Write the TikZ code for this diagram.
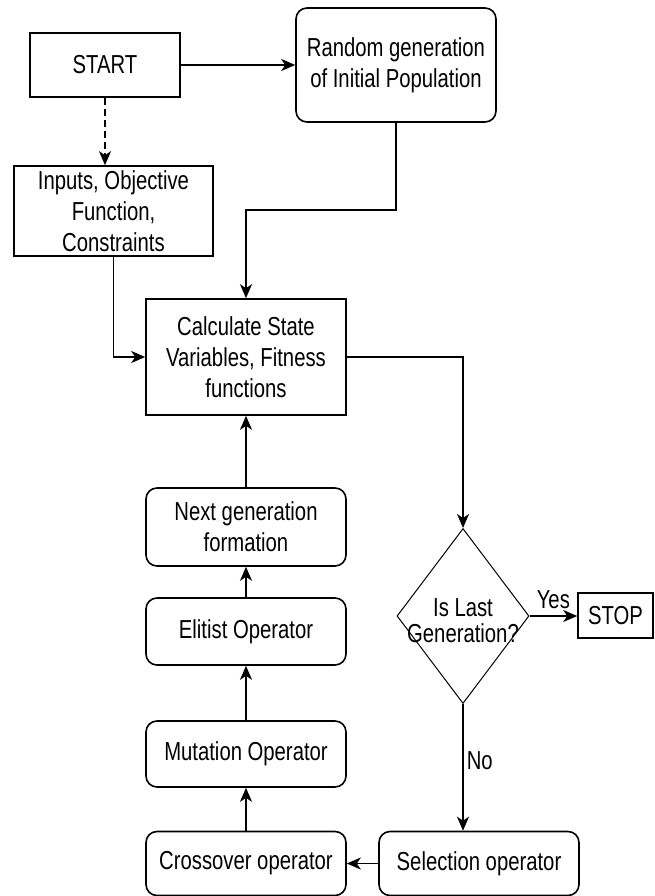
\documentclass[tikz,border=0pt]{standalone}
\usepackage{fontspec}
\setmainfont[FakeStretch=0.78]{Liberation Sans}
\usetikzlibrary{shapes.geometric,arrows.meta}

\tikzset{
  box/.style={draw=black, line width=1.6pt, align=center, inner sep=0pt,
    minimum width=200pt, font=\fontsize{26}{31}\selectfont},
  rbox/.style={box, rounded corners=11pt},
  decision/.style={draw=black, line width=1pt, diamond, inner sep=0pt,
    minimum width=132pt, minimum height=175pt},
  flow/.style={black, line width=1.6pt, -{Stealth[length=14pt,width=12pt,inset=4pt]}},
  tag/.style={font=\fontsize{26}{31}\selectfont, inner sep=0pt}
}

\begin{document}
\begin{tikzpicture}[x=1pt, y=-1pt]
\useasboundingbox (0,0) rectangle (654,896);

\node[box, minimum width=150pt, minimum height=64pt] (start) at (105,65) {START};
\node[rbox, minimum height=114pt] (rand) at (396,65) {Random generation\\of Initial Population};
\node[box, minimum width=199pt, minimum height=90pt] (inputs) at (113.5,211) {Inputs, Objective\\Function,\\Constraints};
\node[box, minimum height=116pt] (calc) at (246,357) {Calculate State\\Variables, Fitness\\functions};
\node[rbox, minimum height=78pt] (next) at (246,527) {Next generation\\formation};
\node[rbox, minimum height=67pt] (elit) at (246,631.5) {Elitist Operator};
\node[rbox, minimum height=66pt] (mut) at (246,754) {Mutation Operator};
\node[rbox, minimum height=64pt] (cross) at (246,863.5) {Crossover operator};
\node[rbox, minimum height=64pt] (sel) at (479,863.5) {Selection operator};
\node[decision] (dia) at (463,616) {};
\node[tag, align=center, font=\fontsize{26}{26}\selectfont] (ask) at (463,621) {Is Last\\Generation?};
\node[box, minimum width=75pt, minimum height=45pt] (stop) at (615.5,615.5) {STOP};

\coordinate (bend) at (396,210);

\draw[flow] (start) -- (rand); %start
\draw[flow, dash pattern=on 7pt off 4pt] (start.south) -- (start.south |- inputs.north); %inputs
\draw[flow] (rand.south) -- (bend) -| (calc.north); %initial population
\draw[flow] (inputs.south) |- (calc.west);
\draw[flow] (calc.east) -| (dia.north); %fitness
\draw[flow] (dia.east) -- (dia.east -| stop.west) node[tag, pos=.5, above=6pt] (yes) {Yes};
\draw[flow] (dia.south) -- (dia.south |- sel.north) node[tag, pos=.45, right=3pt] (no) {No};
\draw[flow] (sel) -- (cross);
\draw[flow] (cross) -- (mut);
\draw[flow] (mut) -- (elit);
\draw[flow] (elit) -- (next);
\draw[flow] (next) -- (calc);
\end{tikzpicture}
\end{document}
